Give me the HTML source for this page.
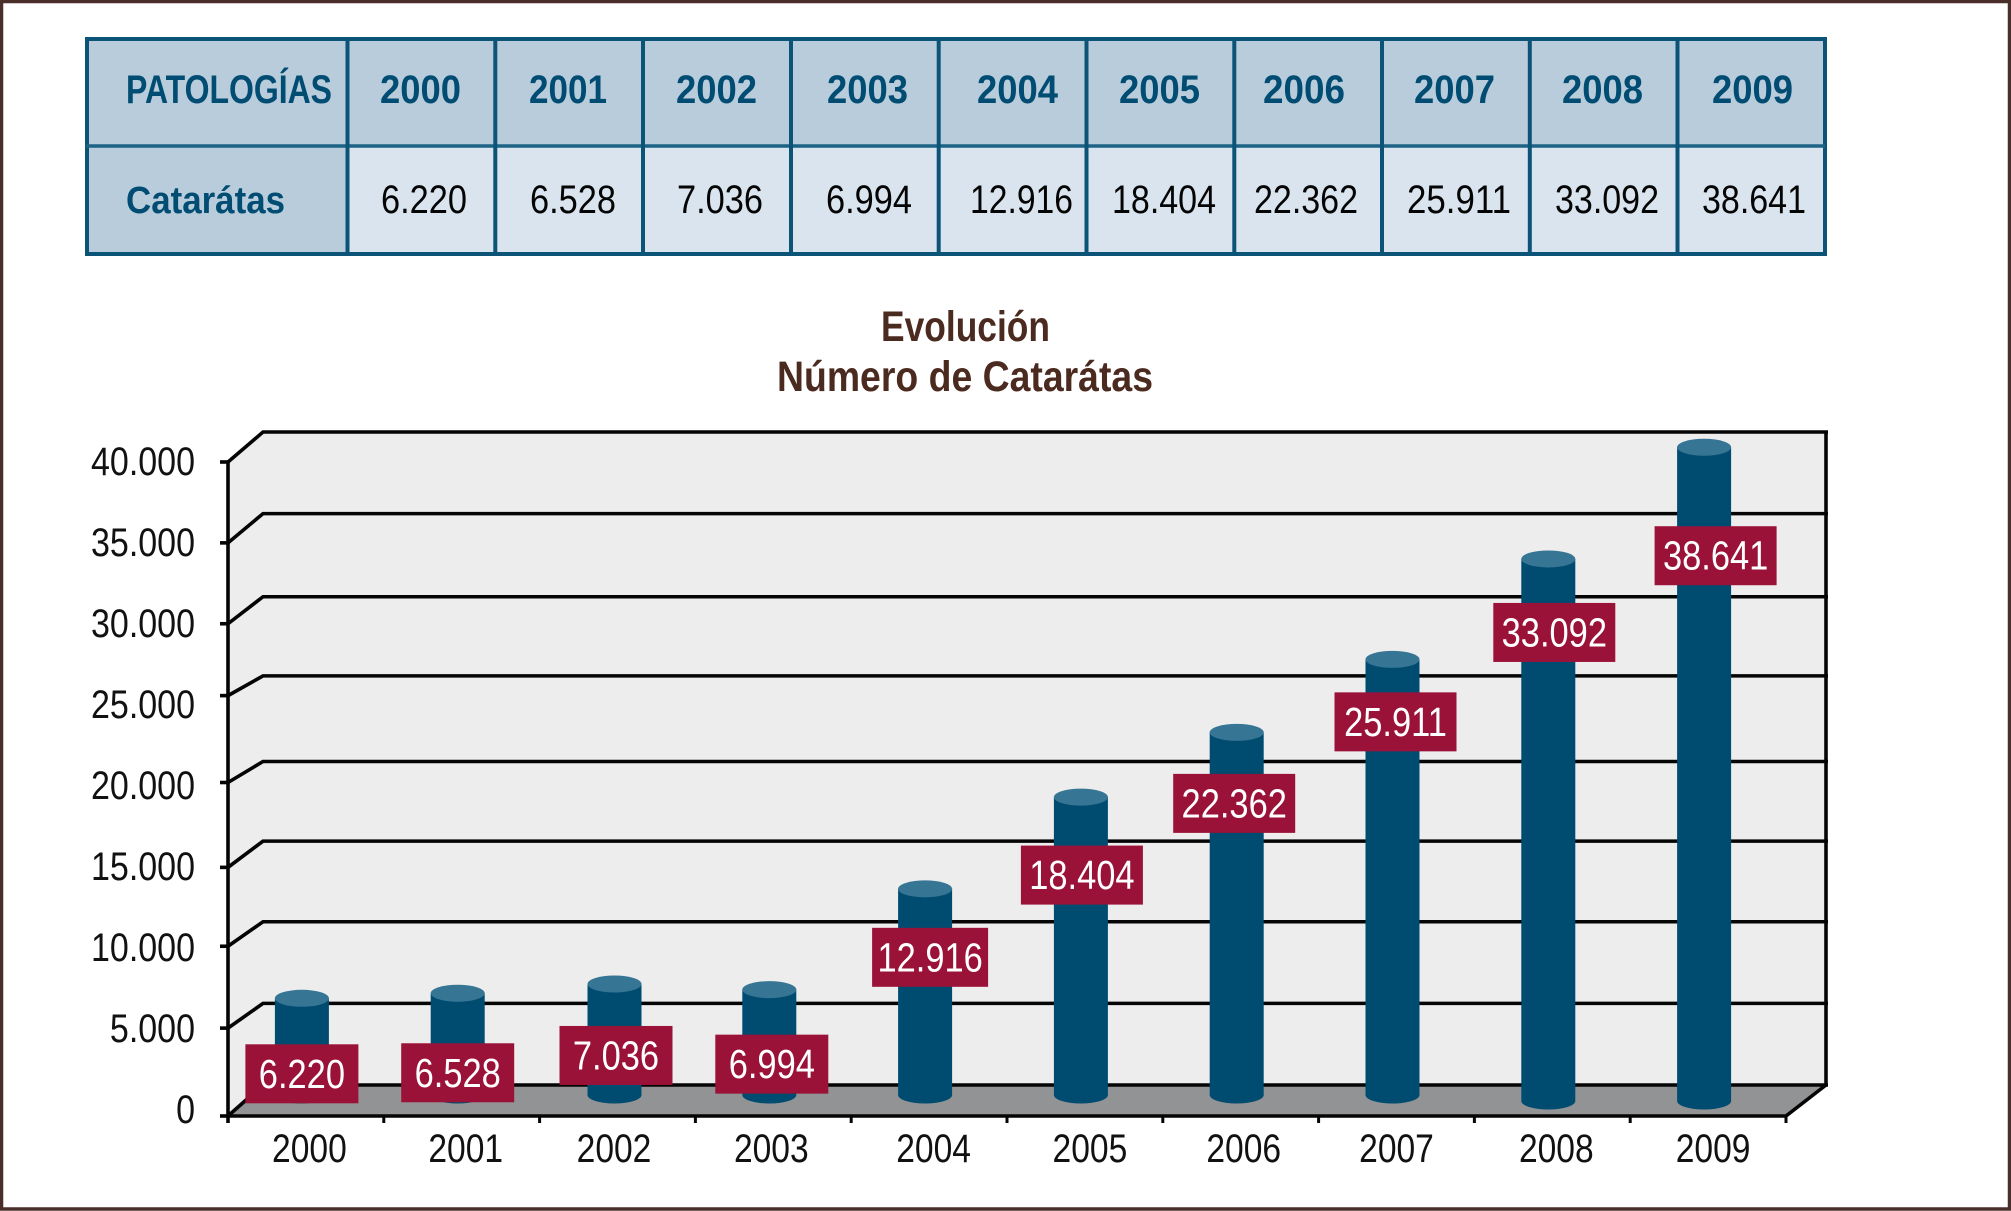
<!DOCTYPE html>
<html lang="es">
<head>
<meta charset="utf-8">
<title>Evolución Número de Cataráts</title>
<style>
html,body{margin:0;padding:0;background:#fff;}
svg{display:block;font-family:"Liberation Sans",sans-serif;}
</style>
</head>
<body>
<svg id="chart" xmlns="http://www.w3.org/2000/svg" width="2011" height="1211" viewBox="0 0 2011 1211">
  <rect x="0" y="0" width="2011" height="1211" fill="#fff"/>
  <rect x="1.5" y="1.5" width="2008" height="1207.5" fill="none" stroke="#4a2e2a" stroke-width="3.5"/>

  <g>
    <rect x="86" y="38" width="1739" height="108" fill="#b9ccdb"/>
    <rect x="86" y="146" width="261" height="108" fill="#b9ccdb"/>
    <rect x="347" y="146" width="1478" height="108" fill="#d9e4ee"/>
    <g stroke="#0b5478" fill="none">
      <rect x="87" y="39" width="1738" height="215" stroke-width="4"/>
      <line x1="86" y1="146" x2="1825" y2="146" stroke="#1d6386" stroke-width="3.5"/>
      <line x1="347.5" y1="38" x2="347.5" y2="254" stroke-width="4"/>
      <line x1="495.3" y1="38" x2="495.3" y2="254" stroke-width="4"/>
      <line x1="643" y1="38" x2="643" y2="254" stroke-width="4"/>
      <line x1="791" y1="38" x2="791" y2="254" stroke-width="4"/>
      <line x1="938.7" y1="38" x2="938.7" y2="254" stroke-width="4"/>
      <line x1="1086.5" y1="38" x2="1086.5" y2="254" stroke-width="4"/>
      <line x1="1234.3" y1="38" x2="1234.3" y2="254" stroke-width="4"/>
      <line x1="1382" y1="38" x2="1382" y2="254" stroke-width="4"/>
      <line x1="1529.8" y1="38" x2="1529.8" y2="254" stroke-width="4"/>
      <line x1="1677.5" y1="38" x2="1677.5" y2="254" stroke-width="4"/>
    </g>
    <g fill="#004c72" font-weight="bold" font-size="40">
      <text x="126" y="103" textLength="206" lengthAdjust="spacingAndGlyphs">PATOLOGÍAS</text>
      <text x="380" y="103" textLength="81" lengthAdjust="spacingAndGlyphs">2000</text>
      <text x="529" y="103" textLength="78" lengthAdjust="spacingAndGlyphs">2001</text>
      <text x="676" y="103" textLength="81" lengthAdjust="spacingAndGlyphs">2002</text>
      <text x="827" y="103" textLength="81" lengthAdjust="spacingAndGlyphs">2003</text>
      <text x="977" y="103" textLength="81" lengthAdjust="spacingAndGlyphs">2004</text>
      <text x="1119" y="103" textLength="81" lengthAdjust="spacingAndGlyphs">2005</text>
      <text x="1263" y="103" textLength="82" lengthAdjust="spacingAndGlyphs">2006</text>
      <text x="1414" y="103" textLength="81" lengthAdjust="spacingAndGlyphs">2007</text>
      <text x="1562" y="103" textLength="81" lengthAdjust="spacingAndGlyphs">2008</text>
      <text x="1712" y="103" textLength="81" lengthAdjust="spacingAndGlyphs">2009</text>
    </g>
    <text x="126" y="213" fill="#004c72" font-weight="bold" font-size="38" textLength="159" lengthAdjust="spacingAndGlyphs">Catarátas</text>
    <g fill="#050505" font-size="40">
      <text x="381" y="213" textLength="86" lengthAdjust="spacingAndGlyphs">6.220</text>
      <text x="530" y="213" textLength="86" lengthAdjust="spacingAndGlyphs">6.528</text>
      <text x="677" y="213" textLength="86" lengthAdjust="spacingAndGlyphs">7.036</text>
      <text x="826" y="213" textLength="86" lengthAdjust="spacingAndGlyphs">6.994</text>
      <text x="970" y="213" textLength="103" lengthAdjust="spacingAndGlyphs">12.916</text>
      <text x="1112" y="213" textLength="104" lengthAdjust="spacingAndGlyphs">18.404</text>
      <text x="1254" y="213" textLength="104" lengthAdjust="spacingAndGlyphs">22.362</text>
      <text x="1407" y="213" textLength="104" lengthAdjust="spacingAndGlyphs">25.911</text>
      <text x="1555" y="213" textLength="104" lengthAdjust="spacingAndGlyphs">33.092</text>
      <text x="1702" y="213" textLength="104" lengthAdjust="spacingAndGlyphs">38.641</text>
    </g>
  </g>

  <g fill="#4b2a20" font-weight="bold" font-size="43">
    <text x="881" y="341" textLength="169" lengthAdjust="spacingAndGlyphs">Evolución</text>
    <text x="777" y="391" textLength="376" lengthAdjust="spacingAndGlyphs">Número de Catarátas</text>
  </g>

  <g id="plot"></g>
</svg>

<script>
// ---- chart data ----
const categories = ['2000','2001','2002','2003','2004','2005','2006','2007','2008','2009'];
const values = [6220,6528,7036,6994,12916,18404,22362,25911,33092,38641];
const yTicks = [0,5000,10000,15000,20000,25000,30000,35000,40000];
const yTickLabels = ['0','5.000','10.000','15.000','20.000','25.000','30.000','35.000','40.000'];

// ---- hand-placement seen in the original artwork (not data) ----
const barTopAdjust = {2002:-1, 2003:4, 2005:-2, 2006:-2, 2007:-17, 2009:-21};
const barBaseAdjust = {2008:6, 2009:6};
const barXAdjust = {2002:1};
const labelAdjust = {
  2000:{dy:1}, 2001:{dy:5}, 2002:{dx:1.5,dy:-3}, 2003:{dx:2.5},
  2004:{dx:5,dy:-6}, 2005:{dx:1,dy:3.5}, 2006:{dx:-2.5,dy:-3.5}, 2007:{dx:3,dy:-12},
  2008:{dx:6,dy:-1}, 2009:{dx:11.5,dy:34}
};
const xLabelAdjust = {2000:3.5, 2001:4, 2002:-3.5, 2003:-2, 2004:4.5, 2005:5, 2006:3, 2007:0, 2008:4, 2009:5};
const frontTickAdjust = {0:7, 25000:-9, 20000:-3, 15000:1, 10000:-1};
const backGridAdjust = {30000:1.5, 20000:3, 15000:1, 25000:-1};

// ---- axis functions ----
const FRONT_LEFT = 228, FRONT_RIGHT = 1786, BACK_LEFT = 263, BACK_RIGHT = 1826;
const Y_MAX = 40000;
const yFront = v => 1109 - v * (1109 - 462) / Y_MAX + (frontTickAdjust[v] || 0);
const yBack  = v => 1085 - v * (1085 - 432) / Y_MAX + (backGridAdjust[v] || 0);
const yLabel = v => 1123 - v * (1123 - 475) / Y_MAX;
const yBar   = v => 1100 - v * (1116 - 462) / Y_MAX;
const bandW  = (FRONT_RIGHT - FRONT_LEFT) / categories.length;
const xBand  = i => FRONT_LEFT + bandW * (i + 0.5);
const xTick  = i => FRONT_LEFT + bandW * i;
const formatValue = v => String(v).replace(/\B(?=(\d{3})+$)/g, '.');

const NS = 'http://www.w3.org/2000/svg';
const plot = document.getElementById('plot');
function make(tag, attrs) {
  const el = document.createElementNS(NS, tag);
  for (const k in attrs) el.setAttribute(k, attrs[k]);
  plot.appendChild(el);
  return el;
}
function makeText(str, x, y, anchor, size, fill, sx) {
  const t = make('text', {
    transform: 'translate(' + x + ' ' + y + ') scale(' + sx + ' 1)',
    'text-anchor': anchor, 'font-size': size, fill: fill
  });
  t.textContent = str;
  return t;
}

// walls and floor
const wall = make('polygon', {
  points: [FRONT_LEFT, yFront(Y_MAX), BACK_LEFT, yBack(Y_MAX), BACK_RIGHT, yBack(Y_MAX), BACK_RIGHT, yBack(0), BACK_LEFT, yBack(0), FRONT_LEFT, yFront(0)].join(' '),
  fill: '#ededed'
});



const floor = make('polygon', {
  points: [FRONT_LEFT, yFront(0), BACK_LEFT, yBack(0), BACK_RIGHT, yBack(0), FRONT_RIGHT, yFront(0)].join(' '),
  fill: '#929395'
});



// gridlines with depth segments, y ticks and y labels
yTicks.forEach((v, i) => {
  const grid = make('polyline', {
    points: [FRONT_LEFT, yFront(v), BACK_LEFT, yBack(v), BACK_RIGHT + 2, yBack(v)].join(' '),
    fill: 'none', stroke: '#050505', 'stroke-width': 3.6
  });
  
  

  const tick = make('line', {
    x1: FRONT_LEFT - 8, y1: yFront(v), x2: FRONT_LEFT, y2: yFront(v),
    stroke: '#050505', 'stroke-width': 3.6
  });
  
  

  const label = makeText(yTickLabels[i], 195, yLabel(v), 'end', 40, '#111', 0.85);
  
  
});

// axis frame
const yAxis = make('line', {
  x1: FRONT_LEFT, y1: yFront(Y_MAX), x2: FRONT_LEFT, y2: yFront(0) + 7,
  stroke: '#050505', 'stroke-width': 3.6
});



const wallRight = make('line', {
  x1: BACK_RIGHT, y1: yBack(Y_MAX), x2: BACK_RIGHT, y2: yBack(0),
  stroke: '#050505', 'stroke-width': 3.6
});



const floorEdge = make('polyline', {
  points: [FRONT_LEFT, yFront(0), FRONT_RIGHT, yFront(0), BACK_RIGHT, yBack(0)].join(' '),
  fill: 'none', stroke: '#050505', 'stroke-width': 3.6
});



// x ticks and labels
for (let i = 1; i <= categories.length; i++) {
  const tick = make('line', {
    x1: xTick(i), y1: yFront(0), x2: xTick(i), y2: yFront(0) + 7,
    stroke: '#050505', 'stroke-width': 3
  });
  
  
}
categories.forEach((c, i) => {
  const label = makeText(c, xBand(i) + (xLabelAdjust[c] || 0), 1162, 'middle', 40, '#111', 0.84);
  
  
});

// bars
const BAR_W = 54, BAR_BASE = 1095, CAP_RY = 8.5;
function barTop(i) { return yBar(values[i]) + (barTopAdjust[categories[i]] || 0); }
function barX(i) { return xBand(i) - 4 + (barXAdjust[categories[i]] || 0); }
categories.forEach((c, i) => {
  const cx = barX(i);
  const x0 = cx - BAR_W / 2, x1 = cx + BAR_W / 2;
  const top = barTop(i);
  const base = BAR_BASE + (barBaseAdjust[c] || 0);
  const body = make('path', {
    d: 'M' + x0 + ' ' + top + ' L' + x0 + ' ' + base +
       ' A' + (BAR_W / 2) + ' ' + CAP_RY + ' 0 0 0 ' + x1 + ' ' + base +
       ' L' + x1 + ' ' + top + ' Z',
    fill: '#004c71'
  });
  
  

  const cap = make('ellipse', { cx: cx, cy: top, rx: BAR_W / 2, ry: CAP_RY, fill: '#367594' });
  
  
});

// value labels, drawn above every bar
categories.forEach((c, i) => {
  const adj = labelAdjust[c] || {};
  const cx = barX(i) + (adj.dx || 0);
  const boxTop = barTop(i) + 45 + (adj.dy || 0);
  const str = formatValue(values[i]);
  const w = c === '2004' ? 116 : (str.length > 5 ? 122 : 113);
  const box = make('rect', { x: cx - w / 2, y: boxTop, width: w, height: 59, fill: '#9b1238' });
  
  

  const label = makeText(str, cx, boxTop + 43.5, 'middle', 41, '#fff', 0.84);
  
  
});
</script>
</body>
</html>
